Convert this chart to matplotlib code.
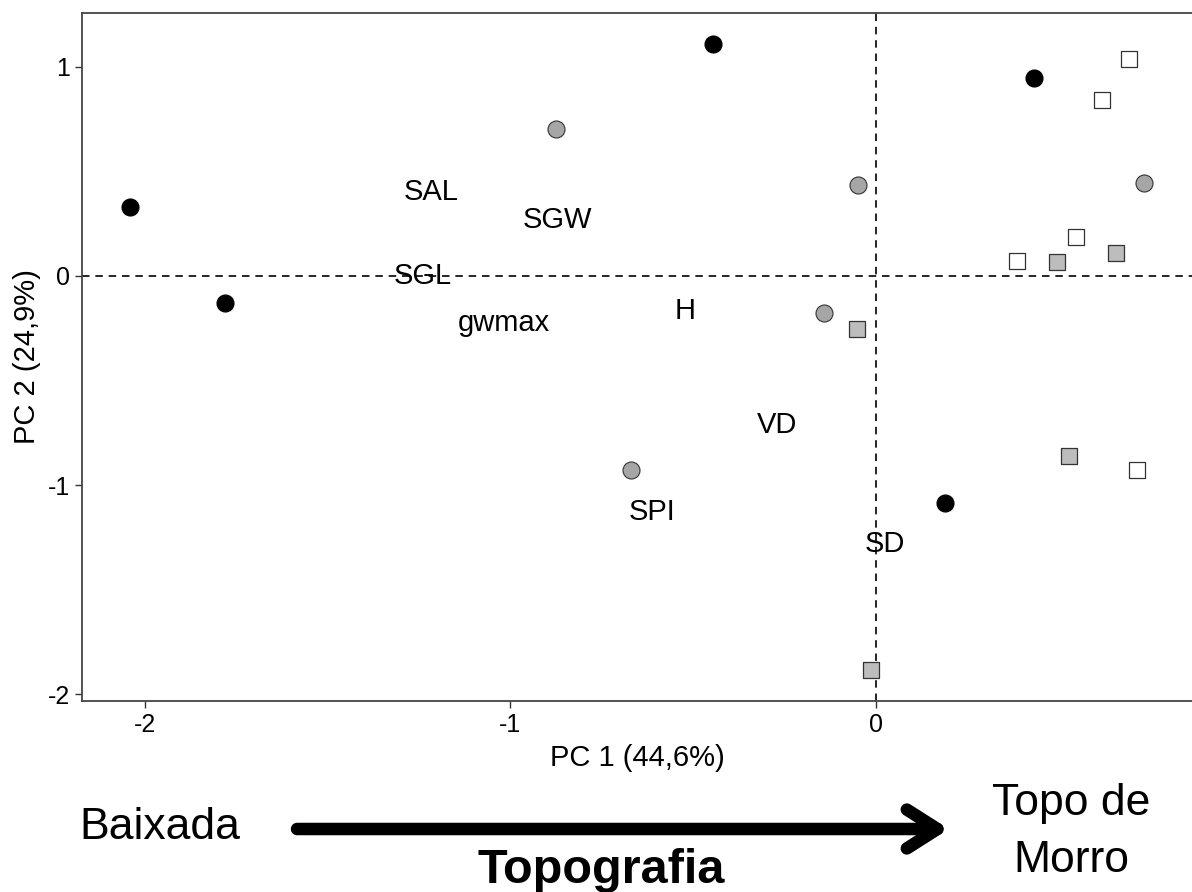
import matplotlib
matplotlib.use("Agg")
import matplotlib.pyplot as plt
from matplotlib.patches import FancyArrowPatch, ArrowStyle

plt.rcParams['font.family'] = ['Liberation Sans', 'DejaVu Sans']

# PCA scores
black_x = [-2.041, -1.781, -0.446, 0.432, 0.189]
black_y = [0.330, -0.129, 1.110, 0.947, -1.086]

grey_circ_x = [-0.875, -0.049, 0.733, -0.142, -0.670]
grey_circ_y = [0.703, 0.435, 0.445, -0.177, -0.928]

grey_sq_x = [-0.052, 0.495, 0.657, 0.528, -0.014]
grey_sq_y = [-0.254, 0.067, 0.110, -0.861, -1.885]

white_sq_x = [0.692, 0.618, 0.547, 0.386, 0.714]
white_sq_y = [1.038, 0.842, 0.187, 0.072, -0.928]

# variable labels
var_names = ["SAL", "SGW", "SGL", "gwmax", "H", "VD", "SPI", "SD"]
var_x = [-1.217, -0.870, -1.239, -1.018, -0.523, -0.271, -0.613, 0.025]
var_y = [0.402, 0.268, 0.000, -0.225, -0.167, -0.713, -1.129, -1.282]

xticks = [-2, -1, 0]
yticks = [-2, -1, 0, 1]

W, H = 1192, 892
fig = plt.figure(figsize=(W / 100, H / 100), dpi=100)
ax = fig.add_axes([82 / W, 1 - 701 / H, 1 - 82 / W, (701 - 13) / H])

ax.axhline(0, color='black', lw=1.2, ls=(0, (4.5, 3.5)), zorder=1)
ax.axvline(0, color='black', lw=1.2, ls=(0, (4.5, 3.5)), zorder=1)

ax.scatter(black_x, black_y, s=150, marker='o', c='black', edgecolors='black', linewidths=0.8, zorder=3)
ax.scatter(grey_circ_x, grey_circ_y, s=150, marker='o', c='#a6a6a6', edgecolors='#333333', linewidths=0.8, zorder=3)
ax.scatter(grey_sq_x, grey_sq_y, s=118, marker='s', c='#bdbdbd', edgecolors='#333333', linewidths=0.9, zorder=3)
ax.scatter(white_sq_x, white_sq_y, s=118, marker='s', c='white', edgecolors='#333333', linewidths=0.9, zorder=3)

for name, x, y in zip(var_names, var_x, var_y):
    ax.text(x, y, name, ha='center', va='center', fontsize=21, color='black', zorder=4)

ax.set_xlim(-2.172, 0.865)
ax.set_ylim(-2.033, 1.258)
ax.set_xticks(xticks)
ax.set_yticks(yticks)
ax.set_xticklabels([str(t) for t in xticks])
ax.set_yticklabels([str(t) for t in yticks])
ax.tick_params(axis='both', labelsize=18, colors='#333333', labelcolor='black', length=5, width=1)

for side in ['top', 'left', 'bottom']:
    ax.spines[side].set_color('#444444')
    ax.spines[side].set_linewidth(1.3)
ax.spines['right'].set_visible(False)

ax.set_xlabel("PC 1 (44,6%)", fontsize=21, labelpad=5)
ax.set_ylabel("PC 2 (24,9%)", fontsize=21, labelpad=5)

# topography gradient underneath
fig.text(160 / W, 1 - 839 / H, "Baixada", ha='center', va='baseline', fontsize=32)
fig.text(601 / W, 1 - 883 / H, "Topografia", ha='center', va='baseline', fontsize=35, fontweight='bold')
fig.text(1071 / W, 1 - 881 / H, "Topo de\nMorro", ha='center', va='bottom', fontsize=32, linespacing=1.5, multialignment='center')

arr = FancyArrowPatch((297 / W, 1 - 829 / H), (949 / W, 1 - 829 / H),
                      transform=fig.transFigure,
                      arrowstyle=ArrowStyle('->', head_length=22, head_width=14),
                      mutation_scale=1, lw=9, color='black',
                      capstyle='round', joinstyle='round', shrinkA=0, shrinkB=0)
fig.patches.append(arr)

fig.savefig("out.png", dpi=100)
